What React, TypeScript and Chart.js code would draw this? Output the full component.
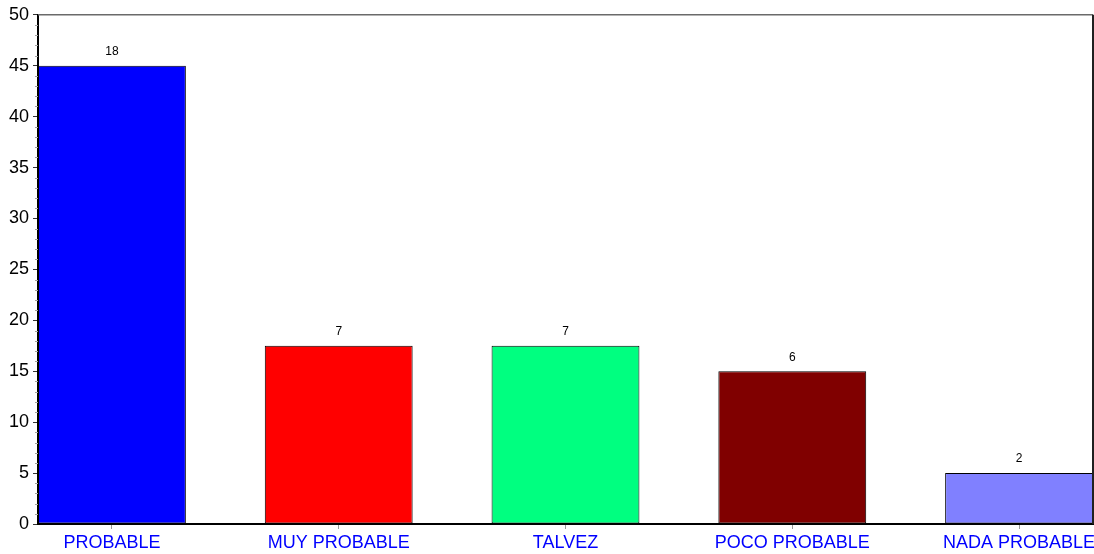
import React, { useEffect, useRef } from "react";
import { Chart, registerables } from "chart.js";

Chart.register(...registerables);

const CATEGORIES = ["PROBABLE", "MUY PROBABLE", "TALVEZ", "POCO PROBABLE", "NADA PROBABLE"];
const PERCENTS = [45, 17.5, 17.5, 15, 5];
const COUNTS = [18, 7, 7, 6, 2];
const COLORS = ["#0000ff", "#ff0000", "#00ff80", "#800000", "#8080ff"];
const Y_MIN = 0;
const Y_MAX = 50;
const Y_STEP = 5;

const FONT = "'Liberation Sans', Arial, sans-serif";
const BAR_FRACTION = 0.652;

const frameAndLabels = {
  id: "frameAndLabels",
  afterDatasetsDraw(chart: any) {
    const { ctx, chartArea } = chart;
    const yScale = chart.scales.y;
    ctx.save();
    // minor ticks on y axis
    ctx.strokeStyle = "#a0a0a0";
    ctx.lineWidth = 1;
    for (let v = Y_MIN; v <= Y_MAX; v += 1) {
      if (v % Y_STEP === 0) continue;
      const py = Math.round(yScale.getPixelForValue(v)) + 0.5;
      ctx.beginPath();
      ctx.moveTo(chartArea.left - 3, py);
      ctx.lineTo(chartArea.left, py);
      ctx.stroke();
    }
    // top border
    ctx.strokeStyle = "#6a6a6a";
    ctx.lineWidth = 1.5;
    ctx.beginPath();
    ctx.moveTo(chartArea.left, chartArea.top);
    ctx.lineTo(chartArea.right, chartArea.top);
    ctx.stroke();
    // right border
    ctx.strokeStyle = "#202020";
    ctx.lineWidth = 2;
    ctx.beginPath();
    ctx.moveTo(chartArea.right, chartArea.top);
    ctx.lineTo(chartArea.right, chartArea.bottom);
    ctx.stroke();
    // value labels
    const meta = chart.getDatasetMeta(0);
    ctx.fillStyle = "#000";
    ctx.font = `12px ${FONT}`;
    ctx.textAlign = "center";
    ctx.textBaseline = "bottom";
    meta.data.forEach((bar: any, i: number) => {
      ctx.fillText(String(COUNTS[i]), bar.x, bar.y - 8);
    });
    ctx.restore();
  },
};

export default function App() {
  const ref = useRef<HTMLCanvasElement>(null);
  useEffect(() => {
    if (!ref.current) return;
    const half = BAR_FRACTION / 2;
    const chart = new Chart(ref.current, {
      type: "bar",
      data: {
        datasets: [
          {
            data: PERCENTS.map((v, i) => ({ x: i, y: v })),
            backgroundColor: COLORS,
            borderColor: "#000",
            borderWidth: 1,
            borderSkipped: false,
            categoryPercentage: 1,
            barPercentage: BAR_FRACTION,
          },
        ],
      },
      options: {
        responsive: false,
        animation: false,
        layout: { padding: { top: 14, right: 1, left: 0, bottom: 0 } },
        plugins: { legend: { display: false }, tooltip: { enabled: false } },
        scales: {
          x: {
            type: "linear",
            offset: false,
            min: -half,
            max: CATEGORIES.length - 1 + half,
            afterBuildTicks: (s: any) => {
              s.ticks = CATEGORIES.map((_, i) => ({ value: i }));
            },
            afterFit: (s: any) => {
              s.height = 30;
              s.paddingLeft = 0;
              s.paddingRight = 0;
            },
            ticks: {
              autoSkip: false,
              maxRotation: 0,
              padding: 3,
              color: "#0000ff",
              font: { family: FONT, size: 18 },
              callback: (v: any) => CATEGORIES[v] ?? "",
            },
            grid: { offset: false, drawOnChartArea: false, drawTicks: true, tickLength: 5, tickColor: "#999" },
            border: { color: "#000", width: 2 },
          },
          y: {
            min: Y_MIN,
            max: Y_MAX,
            afterFit: (s: any) => {
              s.width = 38;
            },
            ticks: {
              stepSize: Y_STEP,
              padding: 4,
              color: "#000",
              font: { family: FONT, size: 18 },
            },
            grid: { drawOnChartArea: false, drawTicks: true, tickLength: 5, tickColor: "#333" },
            border: { color: "#000", width: 2 },
          },
        },
      },
      plugins: [frameAndLabels],
    });
    return () => chart.destroy();
  }, []);
  return (
    <div style={{ position: "absolute", left: 0, top: 0, width: 1094, height: 554, background: "#fff" }}>
      <canvas ref={ref} width={1094} height={554} style={{ display: "block" }} />
    </div>
  );
}
